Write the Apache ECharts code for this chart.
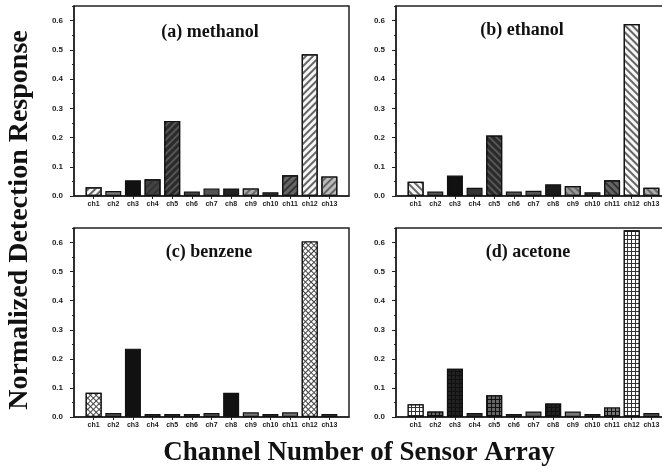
<!DOCTYPE html>
<html>
<head>
<meta charset="utf-8">
<script src="https://cdn.jsdelivr.net/npm/echarts@6/dist/echarts.min.js"></script>
<style>html,body{margin:0;padding:0;background:#fff}#c{width:662px;height:469px}</style>
</head>
<body>
<div id="c"></div>
<script>
// ---- data ----
var channels = ['ch1','ch2','ch3','ch4','ch5','ch6','ch7','ch8','ch9','ch10','ch11','ch12','ch13'];
var yTicks = [0.0, 0.1, 0.2, 0.3, 0.4, 0.5, 0.6];
var panelTitles = ['(a) methanol', '(b) ethanol', '(c) benzene', '(d) acetone'];
var methanol = [0.030, 0.017, 0.054, 0.057, 0.257, 0.015, 0.026, 0.026, 0.026, 0.013, 0.071, 0.485, 0.067];
var ethanol  = [0.049, 0.015, 0.070, 0.028, 0.207, 0.015, 0.018, 0.040, 0.034, 0.013, 0.054, 0.588, 0.028];
var benzene  = [0.083, 0.014, 0.235, 0.010, 0.010, 0.010, 0.014, 0.083, 0.016, 0.010, 0.016, 0.604, 0.010];
var acetone  = [0.044, 0.019, 0.166, 0.014, 0.075, 0.010, 0.019, 0.046, 0.019, 0.010, 0.033, 0.642, 0.014];
var xTitle = 'Channel Number of Sensor Array';
var yTitle = 'Normalized Detection Response';

// ---- styles ----
var fillA = ['#f4f4f4','#777','#111','#444','#2a2a2a','#444','#555','#222','#aaa','#333','#666','#f6f6f6','#bbb'];
var patA  = [1,0,0,1,1,0,0,0,1,0,1,1,1];
var fillB = ['#f4f4f4','#555','#111','#333','#2a2a2a','#555','#555','#1a1a1a','#999','#333','#666','#f6f6f6','#aaa'];
var patB  = [1,0,0,0,1,0,0,0,1,0,1,1,1];
var fillC = ['#ffffff','#555','#111','#333','#333','#333','#555','#111','#777','#333','#777','#ffffff','#444'];
var patC  = [1,0,0,0,0,0,0,0,0,0,0,1,0];
var fillD = ['#ffffff','#666','#222','#333','#666','#333','#666','#222','#777','#333','#777','#ffffff','#555'];
var patD  = [1,1,1,0,1,0,0,1,0,0,1,1,0];

var panels = [
  {vals: methanol, fill: fillA, pat: patA, kind: 'slash', left: 74,  top: 6,   h: 190, tx: 210, ty: 32},
  {vals: ethanol,  fill: fillB, pat: patB, kind: 'back',  left: 396, top: 6,   h: 190, tx: 522, ty: 30},
  {vals: benzene,  fill: fillC, pat: patC, kind: 'check', left: 74,  top: 228, h: 189, tx: 209, ty: 252},
  {vals: acetone,  fill: fillD, pat: patD, kind: 'grid',  left: 396, top: 228, h: 189, tx: 528, ty: 252}
];

function isLight(c){ var v = parseInt(c.substr(1,2),16); return v > 0x90; }

function itemStyleFor(p, i){
  var f = p.fill[i];
  var st = {color: f, borderColor: '#111', borderWidth: 1.2};
  if (!p.pat[i]) return st;
  if (p.kind === 'slash' || p.kind === 'back') {
    var lc = isLight(f) ? '#666' : (parseInt(f.substr(1,2),16) < 0x40 ? '#555' : '#333');
    st.decal = {symbol: 'rect', symbolSize: 1, dashArrayX: [1, 0], dashArrayY: [1.3, 2.9],
                rotation: p.kind === 'slash' ? -Math.PI / 4 : Math.PI / 4, color: lc};
  } else if (p.kind === 'check') {
    st.color = '#444';
    st.decal = {symbol: 'rect', symbolSize: 1, dashArrayX: [2.2, 1], dashArrayY: [2.2, 1],
                rotation: Math.PI / 4, color: f};
  } else {
    st.color = isLight(f) ? '#333' : '#111';
    st.decal = {symbol: 'rect', symbolSize: 1, dashArrayX: [2.6, 1], dashArrayY: [2.6, 1],
                rotation: 0, color: f};
  }
  return st;
}

var cats = [''].concat(channels).concat(['']);
var grids = [], xAxes = [], yAxes = [], series = [], graphics = [];
panels.forEach(function(p, k){
  grids.push({left: p.left, top: p.top, width: 275, height: p.h, show: true,
              outerBoundsMode: 'none', containLabel: false,
              borderColor: '#222', borderWidth: 1.5, backgroundColor: 'transparent'});
  xAxes.push({type: 'category', gridIndex: k, data: cats, boundaryGap: false,
    axisLine: {onZero: false, lineStyle: {color: '#222', width: 1.5}},
    axisTick: {show: true, inside: false, length: 3, interval: function(i){ return i > 0 && i < 14; },
               lineStyle: {color: '#222', width: 1}},
    axisLabel: {interval: 0, fontSize: 7, fontWeight: 'bold', color: '#222', margin: 5,
                fontFamily: 'Liberation Sans'},
    splitLine: {show: false}});
  yAxes.push({type: 'value', gridIndex: k, min: 0, max: 0.65, interval: 0.1,
    axisLine: {show: true, lineStyle: {color: '#222', width: 1.5}},
    axisTick: {show: true, inside: false, length: 4, customValues: yTicks, lineStyle: {color: '#222', width: 1}},
    minorTick: {show: true, splitNumber: 2, length: 2, lineStyle: {color: '#222'}},
    axisLabel: {customValues: yTicks, fontSize: 8, fontWeight: 'bold', color: '#222', margin: 11,
                fontFamily: 'Liberation Sans',
                formatter: function(v){ return v.toFixed(1); }},
    splitLine: {show: false}});
  var data = [null];
  p.vals.forEach(function(v, i){ data.push({value: v, itemStyle: itemStyleFor(p, i)}); });
  data.push(null);
  series.push({type: 'bar', xAxisIndex: k, yAxisIndex: k, data: data, barWidth: 16,
               animation: false, silent: true});
  graphics.push({type: 'text', x: p.tx, y: p.ty,
    style: {text: panelTitles[k], fontSize: 18, fontWeight: 'bold', fontFamily: 'Liberation Serif',
            fill: '#111', align: 'center', verticalAlign: 'middle'}});
});

graphics.push({type: 'text', x: 20, y: 220, rotation: Math.PI / 2,
  style: {text: yTitle, fontSize: 28, fontWeight: 'bold', fontFamily: 'Liberation Serif',
          fill: '#111', align: 'center', verticalAlign: 'middle'}});
graphics.push({type: 'text', x: 359, y: 453,
  style: {text: xTitle, fontSize: 27, fontWeight: 'bold', fontFamily: 'Liberation Serif',
          fill: '#111', align: 'center', verticalAlign: 'middle'}});

var chart = echarts.init(document.getElementById('c'), null, {renderer: 'canvas'});
chart.setOption({
  animation: false,
  backgroundColor: '#fff',
  grid: grids, xAxis: xAxes, yAxis: yAxes, series: series, graphic: graphics
});
</script>
</body>
</html>
